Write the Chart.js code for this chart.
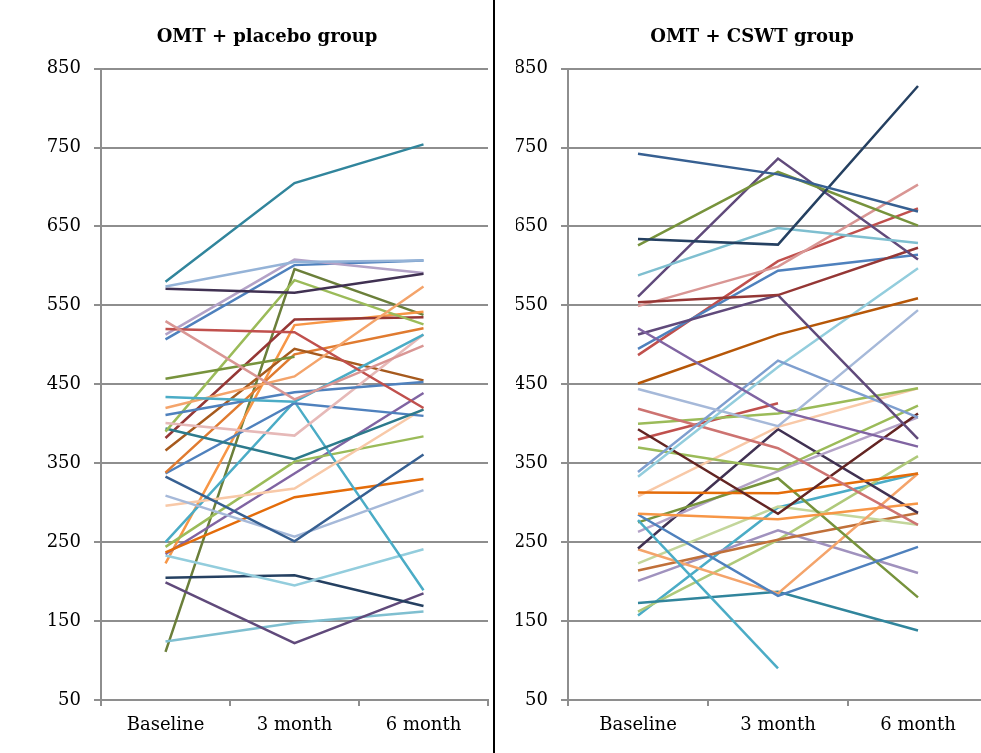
<!DOCTYPE html>
<html><head><meta charset="utf-8">
<script src="https://cdn.jsdelivr.net/npm/chart.js@4.4.1/dist/chart.umd.min.js"></script>
<style>
html,body{margin:0;padding:0;background:#fff;width:981px;height:753px;overflow:hidden;position:relative}
#left{position:absolute;left:0;top:0;width:494px;height:753px}
#right{position:absolute;left:496px;top:0;width:500px;height:753px}
#divider{position:absolute;left:493px;top:0;width:2px;height:753px;background:#000}
</style></head>
<body>
<div id="left"><canvas id="c1"></canvas></div>
<div id="divider"></div>
<div id="right"><canvas id="c2"></canvas></div>
<script>
const timepoints = ['Baseline', '3 month', '6 month'];
const yTicks = [50, 150, 250, 350, 450, 550, 650, 750, 850];

// OMT + placebo group (one entry per patient)
const placeboBaseline = [580, 574, 571, 530, 520, 513, 507, 457, 434, 420, 411, 401, 390, 394, 382, 366, 338, 337, 333, 309, 296, 250, 244, 237, 235, 233, 223, 205, 199, 124, 111];
const placebo3Month   = [705, 605, 566, 431, 516, 608, 601, 485, 428, 460, 440, 385, 582, 355, 532, 495, 488, 426, 251, 257, 318, 428, 352, 307, 337, 195, 525, 208, 122, 148, 596];
const placebo6Month   = [754, 607, 590, 499, 420, 591, 607, null, 513, 574, 453, 513, 526, 418, 535, 455, 521, 410, 361, 316, 419, 189, 384, 330, 439, 241, 542, 169, 185, 162, 538];
const placeboColors   = ['#31859C','#95B3D7','#403152','#D99694','#C0504D','#B3A2C7','#4F81BD','#77933C','#4BACC6','#F4A46B','#4F81BD','#E6B9B8','#9BBB59','#2D7A8C','#953735','#A65A1E','#E07B30','#4F81BD','#376092','#A6B9D9','#F8C9A8','#4BACC6','#9BBB59','#E46C0A','#8064A2','#93CDDD','#F79646','#254061','#604A7B','#7FBFD0','#6B7F3A'];

// OMT + CSWT group
const cswtBaseline = [742, 634, 626, 588, 561, 554, 549, 521, 513, 495, 487, 451, 444, 339, 333, 419, 400, 393, 380, 370, 313, 308, 286, 285, 278, 275, 263, 242, 241, 223, 214, 201, 173, 162, 157];
const cswt3Month   = [716, 627, 719, 648, 736, 563, 599, 417, 563, 594, 606, 513, 397, 480, 472, 369, 413, 286, 426, 342, 312, 396, 279, 182, 90, 331, 340, 393, 185, 295, 253, 265, 187, 253, 294];
const cswt6Month   = [669, 828, 651, 629, 608, 623, 703, 371, 381, 614, 673, 559, 544, 408, 597, 272, 445, 413, null, 423, 337, 445, 299, 244, null, 180, 408, 287, 337, 272, 287, 211, 138, 359, 337];
const cswtColors   = ['#376092','#254061','#77933C','#7FBFD0','#604A7B','#953735','#D99694','#8064A2','#604A7B','#4F81BD','#C0504D','#B65708','#A6B9D9','#7F9FCF','#93CDDD','#CD7371','#9BBB59','#632523','#C0504D','#9BBB59','#E46C0A','#F8C9A8','#F79646','#4F81BD','#4BACC6','#77933C','#B3A2C7','#403152','#F4A46B','#C3D69B','#C0703A','#A092BE','#31859C','#AFC97A','#4BACC6'];

const serif = "'DejaVu Serif', 'Liberation Serif', serif";
const gridColor = '#8e8e8e';

function buildDatasets(b, m3, m6, colors) {
  return b.map((v, i) => ({
    data: [v, m3[i], m6[i]],
    borderColor: colors[i],
    backgroundColor: colors[i],
    borderWidth: 2.5,
    pointRadius: 0,
    tension: 0,
    fill: false
  }));
}

function makeChart(id, title, datasets, yWidth, pad) {
  return new Chart(document.getElementById(id), {
    type: 'line',
    data: { labels: timepoints, datasets },
    options: {
      responsive: true,
      maintainAspectRatio: false,
      animation: false,
      layout: { padding: pad },
      plugins: {
        legend: { display: false },
        tooltip: { enabled: false },
        title: {
          display: true, text: title, color: '#000',
          font: { family: serif, size: 18, weight: 'bold' },
          padding: { top: 27, bottom: 20 }
        }
      },
      scales: {
        x: {
          offset: true,
          grid: { display: true, drawOnChartArea: false, drawTicks: true, tickLength: 6, offset: true, color: gridColor, lineWidth: 2 },
          border: { display: true, color: gridColor, width: 2 },
          ticks: { color: '#000', font: { family: serif, size: 18 }, padding: 9, maxRotation: 0 },
          afterFit: s => { s.height = 53; }
        },
        y: {
          min: 50, max: 850,
          afterBuildTicks: s => { s.ticks = yTicks.map(v => ({ value: v })); },
          grid: { color: gridColor, lineWidth: 2, tickLength: 7, drawTicks: true },
          border: { display: true, color: gridColor, width: 2 },
          ticks: { color: '#000', font: { family: serif, size: 18 }, padding: 13 },
          afterFit: s => { s.width = yWidth; }
        }
      }
    }
  });
}

makeChart('c1', 'OMT + placebo group', buildDatasets(placeboBaseline, placebo3Month, placebo6Month, placeboColors), 55, { left: 46, right: 6, top: 0, bottom: 0 });
makeChart('c2', 'OMT + CSWT group', buildDatasets(cswtBaseline, cswt3Month, cswt6Month, cswtColors), 52, { left: 20, right: 8, top: 0, bottom: 0 });
</script>
</body></html>
